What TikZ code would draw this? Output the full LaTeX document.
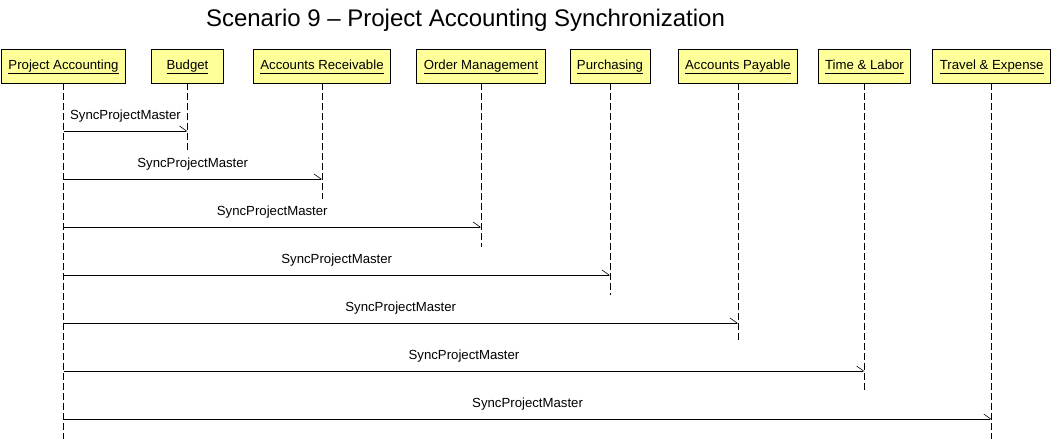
\documentclass[tikz,border=0pt]{standalone}
\usepackage{fontspec}
\setmainfont{Liberation Sans}
\usetikzlibrary{arrows.meta}
\definecolor{boxyellow}{HTML}{FFFF99}
\newcommand{\uname}[1]{\underline{#1\vphantom{g}}}

\begin{document}
\begin{tikzpicture}[
    x=1pt, y=-1pt,
    font=\fontsize{13.2}{16}\selectfont,
    actor/.style={rectangle, draw=black, fill=boxyellow, line width=0.8pt,
      minimum width=72pt, minimum height=34pt, inner xsep=7pt,
      text height=9.5pt, text depth=3.5pt},
    life/.style={line width=0.8pt, dash pattern=on 7pt off 3pt},
    msg/.style={-{Straight Barb[left, length=7pt, width=10pt, line width=0.6pt]}, line width=0.8pt},
    lab/.style={anchor=base, inner sep=0pt}
  ]
    \useasboundingbox (0,0) rectangle (1052,442);
    \node[anchor=base, font=\fontsize{24}{28}\selectfont] (title) at (465.5,26.5)
      {Scenario 9 – Project Accounting Synchronization};
    % participants
    \node[actor] (pa)  at (63.5,66)  {\uname{Project Accounting}};
    \node[actor] (bud) at (187.5,66) {\uname{Budget}};
    \node[actor] (ar)  at (322,66)   {\uname{Accounts Receivable}};
    \node[actor] (om)  at (481,66)   {\uname{Order Management}};
    \node[actor] (pur) at (610,66)   {\uname{Purchasing}};
    \node[actor] (ap)  at (738,66)   {\uname{Accounts Payable}};
    \node[actor] (tl)  at (864.5,66) {\uname{Time \& Labor}};
    \node[actor] (te)  at (991.7,66) {\uname{Travel \& Expense}};
    % message rows
    \coordinate (m1) at (0,131);
    \coordinate (m2) at (0,179);
    \coordinate (m3) at (0,227);
    \coordinate (m4) at (0,275);
    \coordinate (m5) at (0,323);
    \coordinate (m6) at (0,371);
    \coordinate (m7) at (0,419);
    % lifeline ends
    \coordinate (pa-end)  at (pa |- 0,439);
    \coordinate (bud-end) at (bud |- 0,151);
    \coordinate (ar-end)  at (ar |- 0,199);
    \coordinate (om-end)  at (om |- 0,247);
    \coordinate (pur-end) at (pur |- 0,295);
    \coordinate (ap-end)  at (ap |- 0,343);
    \coordinate (tl-end)  at (tl |- 0,391);
    \coordinate (te-end)  at (te |- 0,439);
    \draw[life] (pa.south) -- (pa-end);
    \draw[life] (bud.south) -- (bud-end);
    \draw[life] (ar.south) -- (ar-end);
    \draw[life] (om.south) -- (om-end);
    \draw[life] (pur.south) -- (pur-end);
    \draw[life] (ap.south) -- (ap-end);
    \draw[life] (tl.south) -- (tl-end);
    \draw[life] (te.south) -- (te-end);
    % messages
    \draw[msg] (pa |- m1) -- (bud |- m1) node[lab, midway, yshift=11.7pt] {SyncProjectMaster};
    \draw[msg] (pa |- m2) -- (ar |- m2)  node[lab, midway, yshift=11.7pt] {SyncProjectMaster};
    \draw[msg] (pa |- m3) -- (om |- m3)  node[lab, midway, yshift=11.7pt] {SyncProjectMaster};
    \draw[msg] (pa |- m4) -- (pur |- m4) node[lab, midway, yshift=11.7pt] {SyncProjectMaster};
    \draw[msg] (pa |- m5) -- (ap |- m5)  node[lab, midway, yshift=11.7pt] {SyncProjectMaster};
    \draw[msg] (pa |- m6) -- (tl |- m6)  node[lab, midway, yshift=11.7pt] {SyncProjectMaster};
    \draw[msg] (pa |- m7) -- (te |- m7)  node[lab, midway, yshift=11.7pt] {SyncProjectMaster};
  \end{tikzpicture}
\end{document}
